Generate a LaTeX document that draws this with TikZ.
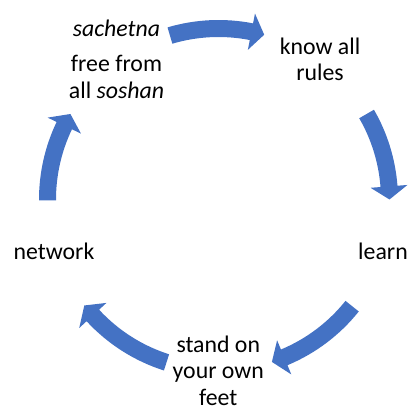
\documentclass[tikz,border=0pt]{standalone}
\usepackage{fontspec}
\setmainfont{Carlito}
\usetikzlibrary{calc}
\definecolor{cycblue}{RGB}{68,114,196}
\begin{document}
\begin{tikzpicture}[x=1pt,y=1pt,
  lbl/.style={font=\fontsize{23.8}{26.6}\selectfont, align=center, inner sep=0pt, anchor=base, text=black},
  arrowfill/.style={fill=cycblue}]
\useasboundingbox (0,0) rectangle (408,406);
\coordinate (c) at (218.5,206.5);
\newcommand\cycarrow[2]{%
  \fill[arrowfill] ($(c)+(#1:179.5)$) arc[start angle=#1, end angle=#2+4.4, radius=179.5]
    -- ($(c)+(#2+4.4:189.5)$) -- ($(c)+(#2:171)$) -- ($(c)+(#2+4.4:152.5)$)
    -- ($(c)+(#2+4.4:162.5)$) arc[start angle=#2+4.4, end angle=#1, radius=162.5] -- cycle;}
% arrows (tail angle, tip angle)
\cycarrow{106.5}{74.5}
\cycarrow{30}{0}
\cycarrow{-38.6}{-71.8}
\cycarrow{-107.7}{-141.7}
\cycarrow{180.3}{150}
% labels (anchor = baseline of last line)
\node[lbl] (free) at (116.5,307.7) {\textit{sachetna}\\[9pt]free from\\all \textit{soshan}};
\node[lbl] (know) at (320,325) {know all\\rules};
\node[lbl] (learn) at (383,146) {learn};
\node[lbl] (stand) at (218.3,0.4) {stand on\\your own\\feet};
\node[lbl] (network) at (54,146) {network};
\end{tikzpicture}
\end{document}
